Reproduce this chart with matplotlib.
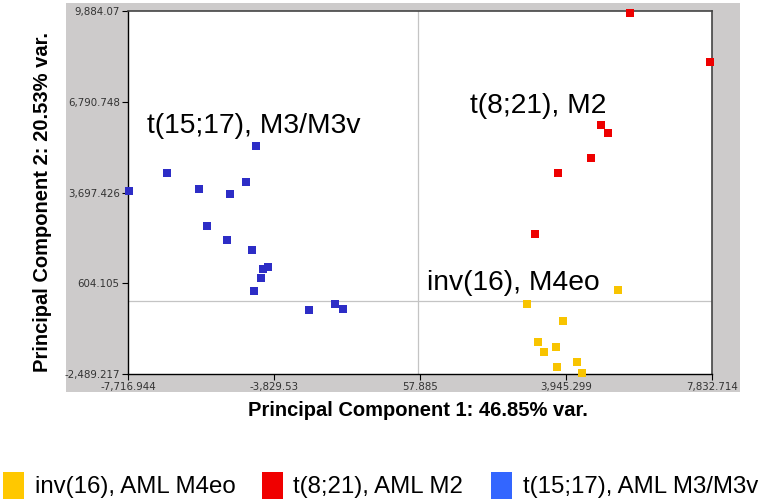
import matplotlib
matplotlib.use('Agg')
import matplotlib.pyplot as plt
from matplotlib.patches import Rectangle

plt.rcParams['font.family'] = ['Liberation Sans', 'DejaVu Sans']

# PCA scores
inv16_x = [5330, 2907, 3865, 3200, 3359, 3679, 3706, 4238, 4371]
inv16_y = [374, -103, -683, -1398, -1739, -1569, -2251, -2080, -2455]

t821_x = [5649, 7779, 4877, 5063, 4611, 3732, 3120]
t821_y = [9816, 8146, 5998, 5726, 4873, 4362, 2283]

t1517_x = [-7690, -6679, -5827, -5001, -4575, -4309, -5614, -5081, -4415,
           -4122, -3989, -4176, -4362, -2898, -2205, -1992]
t1517_y = [3749, 4362, 3817, 3646, 4055, 5282, 2556, 2078, 1737,
           1090, 1158, 783, 340, -308, -103, -274]

x_ticks = [-7716.944, -3829.53, 57.885, 3945.299, 7832.714]
x_tick_labels = ['-7,716.944', '-3,829.53', '57.885', '3,945.299', '7,832.714']
y_ticks = [-2489.217, 604.105, 3697.426, 6790.748, 9884.07]
y_tick_labels = ['-2,489.217', '604.105', '3,697.426', '6,790.748', '9,884.07']

legend_labels = ['inv(16), AML M4eo', 't(8;21), AML M2', 't(15;17), AML M3/M3v']
legend_colors = ['#ffc800', '#f00000', '#3366ff']

W, H = 764, 503
fig = plt.figure(figsize=(W / 100, H / 100), dpi=100)

# grey panel behind the plot
fig.add_artist(Rectangle((66 / W, 1 - 392 / H), 674 / W, 389 / H,
                         transform=fig.transFigure, facecolor='#cdcbcb',
                         edgecolor='none', zorder=0))

ax = fig.add_axes([128 / W, 1 - 374 / H, 584 / W, 363 / H])
ax.set_facecolor('white')
ax.set_xlim(x_ticks[0], x_ticks[-1])
ax.set_ylim(y_ticks[0], y_ticks[-1])

ax.axvline(0, color='#c4c4c4', lw=0.9, zorder=1)
ax.axhline(0, color='#c4c4c4', lw=0.9, zorder=1)

ax.scatter(inv16_x, inv16_y, marker='s', s=26, color='#f8c400', lw=0, zorder=3, clip_on=False)
ax.scatter(t821_x, t821_y, marker='s', s=26, color='#ee0000', lw=0, zorder=3, clip_on=False)
ax.scatter(t1517_x, t1517_y, marker='s', s=26, color='#2d2dc6', lw=0, zorder=3, clip_on=False)

ax.set_xticks(x_ticks)
ax.set_xticklabels(x_tick_labels)
ax.set_yticks(y_ticks)
ax.set_yticklabels(y_tick_labels)
ax.tick_params(length=4, width=0.8, color='black', labelsize=7.4,
               labelcolor='#333333', pad=2)
for lab in ax.get_xticklabels() + ax.get_yticklabels():
    lab.set_family('DejaVu Sans')

for side in ['left', 'bottom']:
    ax.spines[side].set_color('black')
    ax.spines[side].set_linewidth(1.0)
for side in ['top', 'right']:
    ax.spines[side].set_color('#444444')
    ax.spines[side].set_linewidth(1.2)

# group labels
ax.text(0.032, 0.683, 't(15;17), M3/M3v', transform=ax.transAxes,
        fontsize=20.3, va='center', ha='left')
ax.text(0.586, 0.738, 't(8;21), M2', transform=ax.transAxes,
        fontsize=20.3, va='center', ha='left')
ax.text(0.512, 0.251, 'inv(16), M4eo', transform=ax.transAxes,
        fontsize=20.3, va='center', ha='left')

fig.text(418 / W, 1 - 411 / H, 'Principal Component 1: 46.85% var.',
         fontsize=14.5, fontweight='bold', ha='center', va='center')
fig.text(43 / W, 1 - 202 / H, 'Principal Component 2: 20.53% var.',
         fontsize=14.5, fontweight='bold', ha='center', va='center', rotation=90)

# legend drawn by hand along the bottom
rect_x = [3, 262, 491]
text_x = [35, 293, 523]
for lab, col, rx, tx in zip(legend_labels, legend_colors, rect_x, text_x):
    fig.add_artist(Rectangle((rx / W, 1 - 499 / H), 21 / W, 27 / H,
                             transform=fig.transFigure, facecolor=col,
                             edgecolor='none'))
    fig.text(tx / W, 1 - 487 / H, lab, fontsize=17.3, ha='left', va='center')

fig.savefig('out.png', dpi=100)
